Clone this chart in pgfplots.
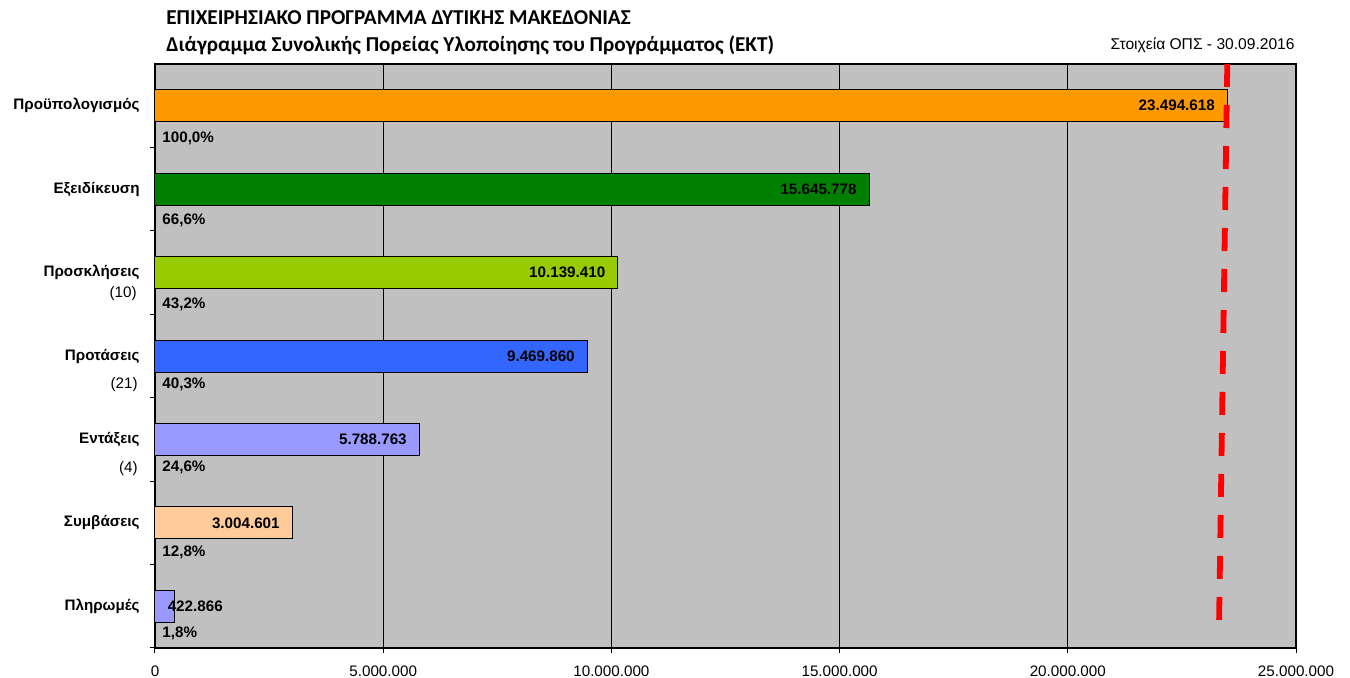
\documentclass[border=0pt]{standalone}
\usepackage{fontspec}
\setmainfont{Liberation Sans}
\newfontfamily\titlefont{Carlito}
\usepackage{pgfplots}
\pgfplotsset{compat=1.18}

\definecolor{cbg}{HTML}{C0C0C0}
\definecolor{cbudget}{HTML}{FF9900}
\definecolor{cspec}{HTML}{008000}
\definecolor{ccalls}{HTML}{99CC00}
\definecolor{cprop}{HTML}{3366FF}
\definecolor{cincl}{HTML}{9999FF}
\definecolor{ccontr}{HTML}{FFCC99}
\definecolor{cpay}{HTML}{9999FF}

\newcommand{\lbl}{\fontsize{7.6}{9}\selectfont}

\pgfplotsset{
  mybar/.style={xbar, bar width=16pt, bar shift=0pt, draw=black, line width=0.5pt,
    point meta=explicit symbolic, nodes near coords={\pgfplotspointmeta},
    every node near coord/.append style={anchor=east, inner sep=0pt, xshift=-6pt,
      font=\lbl\bfseries, text=black}},
}

\begin{document}
\begin{tikzpicture}
\useasboundingbox (0,0) rectangle (675pt,339pt);
\begin{axis}[at={(77.5pt,15pt)}, anchor=south west,
  scale only axis, width=570.5pt, height=292pt,
  xmin=0, xmax=25000000, ymin=-0.5, ymax=6.5, y dir=reverse,
  axis background/.style={fill=cbg},
  axis line style={black, line width=0.6pt},
  tick align=outside, major tick length=2.5pt,
  tick style={black, line width=0.5pt},
  xtick pos=bottom, ytick pos=left,
  scaled x ticks=false,
  xtick={0,5000000,10000000,15000000,20000000,25000000},
  xticklabels={0,5.000.000,10.000.000,15.000.000,20.000.000,25.000.000},
  xticklabel style={font=\lbl, inner sep=0pt, yshift=-6pt},
  xmajorgrids=true, grid style={black, line width=0.5pt},
  ytick={0.5,1.5,2.5,3.5,4.5,5.5,6.5}, yticklabels={},
  extra y ticks={0,1,2,3,4,5,6},
  extra y tick labels={Προϋπολογισμός,Εξειδίκευση,Προσκλήσεις,Προτάσεις,Εντάξεις,Συμβάσεις,Πληρωμές},
  extra y tick style={major tick length=0pt,
    yticklabel style={font=\lbl\bfseries, inner sep=0pt, xshift=-7.5pt}},
  clip=false,
]
\addplot[mybar, fill=cbudget] coordinates {(23494618,0) [23.494.618]};
\addplot[mybar, fill=cspec] coordinates {(15645778,1) [15.645.778]};
\addplot[mybar, fill=ccalls] coordinates {(10139410,2) [10.139.410]};
\addplot[mybar, fill=cprop] coordinates {(9469860,3) [9.469.860]};
\addplot[mybar, fill=cincl] coordinates {(5788763,4) [5.788.763]};
\addplot[mybar, fill=ccontr] coordinates {(3004601,5) [3.004.601]};
\addplot[mybar, fill=cpay,
  every node near coord/.append style={anchor=west, xshift=2.5pt}]
  coordinates {(422866,6) [422.866]};

% budget line
\addplot[red, line width=2.9pt, dash pattern=on 11.5pt off 9pt, line cap=butt]
  coordinates {(23494618,-0.5) (23310000,6.37)};

% percentages
\begin{scope}[every node/.style={anchor=west, inner sep=0pt, font=\lbl\bfseries}]
\node at (axis cs:0,0.39) [xshift=3.5pt] {100,0\%};
\node at (axis cs:0,1.38) [xshift=3.5pt] {66,6\%};
\node at (axis cs:0,2.38) [xshift=3.5pt] {43,2\%};
\node at (axis cs:0,3.34) [xshift=3.5pt] {40,3\%};
\node at (axis cs:0,4.33) [xshift=3.5pt] {24,6\%};
\node at (axis cs:0,5.35) [xshift=3.5pt] {12,8\%};
\node at (axis cs:0,6.33) [xshift=3.5pt] {1,8\%};
\end{scope}

% counts under the category names
\begin{scope}[every node/.style={anchor=east, inner sep=0pt, font=\lbl}]
\node at (axis cs:0,2.25) [xshift=-9pt] {(10)};
\node at (axis cs:0,3.34) [xshift=-8.5pt] {(21)};
\node at (axis cs:0,4.35) [xshift=-8.5pt] {(4)};
\end{scope}
\end{axis}

\node[anchor=west, inner sep=0pt, font=\titlefont\fontsize{10.6}{12}\selectfont\bfseries] at (83pt,330pt)
  {ΕΠΙΧΕΙΡΗΣΙΑΚΟ ΠΡΟΓΡΑΜΜΑ ΔΥΤΙΚΗΣ ΜΑΚΕΔΟΝΙΑΣ};
\node[anchor=west, inner sep=0pt, font=\titlefont\fontsize{10.6}{12}\selectfont\bfseries] at (83pt,316.5pt)
  {Διάγραμμα Συνολικής Πορείας Υλοποίησης του Προγράμματος (ΕΚΤ)};
\node[anchor=east, inner sep=0pt, font=\fontsize{7.8}{9}\selectfont] at (647.5pt,316.5pt)
  {Στοιχεία ΟΠΣ - 30.09.2016};
\end{tikzpicture}
\end{document}
